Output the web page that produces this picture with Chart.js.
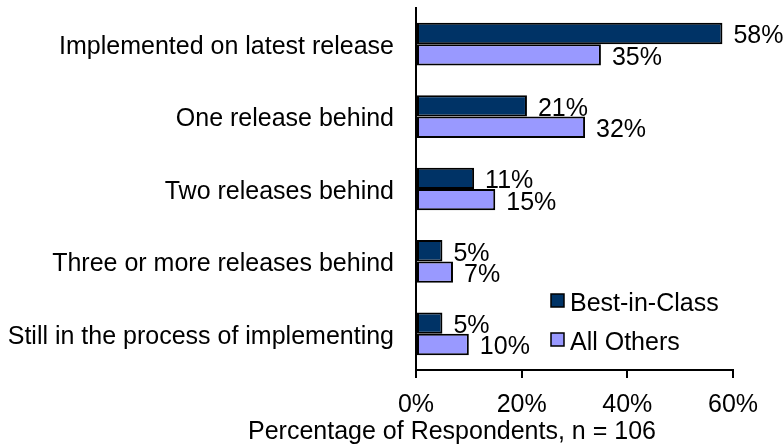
<!DOCTYPE html>
<html>
<head>
<meta charset="utf-8">
<script src="https://cdn.jsdelivr.net/npm/chart.js@4.4.1/dist/chart.umd.min.js"></script>
<style>
  html, body { margin: 0; padding: 0; background: #fff; }
  #wrap { width: 784px; height: 447px; }
</style>
</head>
<body>
<div id="wrap"><canvas id="releaseChart" width="784" height="447"></canvas></div>
<script>
const categories = [
  "Implemented on latest release",
  "One release behind",
  "Two releases behind",
  "Three or more releases behind",
  "Still in the process of implementing"
];
const bestInClass = [58, 21, 11, 5, 5];
const allOthers = [35, 32, 15, 7, 10];
const xTicks = [0, 20, 40, 60];
const axisTitle = "Percentage of Respondents, n = 106";

const FONT = "'Liberation Sans', Arial, sans-serif";
const SIZE = 25;

// value labels at the end of each bar
const valueLabels = {
  id: "valueLabels",
  afterDatasetsDraw(chart) {
    const ctx = chart.ctx;
    ctx.save();
    ctx.font = SIZE + "px " + FONT;
    ctx.fillStyle = "#000";
    ctx.textAlign = "left";
    ctx.textBaseline = "middle";
    chart.data.datasets.forEach((ds, i) => {
      chart.getDatasetMeta(i).data.forEach((bar, j) => {
        ctx.fillText(ds.data[j] + "%", bar.x + 11, bar.y + 3);
      });
    });
    ctx.restore();
  }
};

// legend drawn inside the plot, lower right
const boxLegend = {
  id: "boxLegend",
  afterDraw(chart) {
    const ctx = chart.ctx;
    const a = chart.chartArea;
    ctx.save();
    ctx.font = SIZE + "px " + FONT;
    ctx.textBaseline = "middle";
    ctx.textAlign = "left";
    chart.data.datasets.forEach((ds, i) => {
      const bx = a.left + 135;
      const cy = a.bottom - 69 + i * 39;
      ctx.fillStyle = ds.backgroundColor;
      ctx.fillRect(bx, cy - 7, 13, 13);
      ctx.strokeStyle = "#000";
      ctx.lineWidth = 1.5;
      ctx.strokeRect(bx, cy - 7, 13, 13);
      ctx.fillStyle = "#000";
      ctx.fillText(ds.label, bx + 19, cy + 3);
    });
    ctx.restore();
  }
};

// x axis title, sits left of the plot centre like the original
const bottomTitle = {
  id: "bottomTitle",
  afterDraw(chart) {
    const ctx = chart.ctx;
    ctx.save();
    ctx.font = SIZE + "px " + FONT;
    ctx.fillStyle = "#000";
    ctx.textAlign = "center";
    ctx.textBaseline = "middle";
    ctx.fillText(axisTitle, 452, chart.chartArea.bottom + 62);
    ctx.restore();
  }
};

new Chart(document.getElementById("releaseChart"), {
  type: "bar",
  data: {
    labels: categories,
    datasets: [
      {
        label: "Best-in-Class",
        data: bestInClass,
        backgroundColor: "#003366",
        borderColor: "#000",
        borderWidth: 2,
        borderSkipped: false,
        barPercentage: 1.0,
        categoryPercentage: 0.59
      },
      {
        label: "All Others",
        data: allOthers,
        backgroundColor: "#9999FF",
        borderColor: "#000",
        borderWidth: 2,
        borderSkipped: false,
        barPercentage: 1.0,
        categoryPercentage: 0.59
      }
    ]
  },
  options: {
    indexAxis: "y",
    responsive: false,
    animation: false,
    layout: { padding: { top: 8, right: 51, left: 0, bottom: 0 } },
    plugins: {
      legend: { display: false },
      tooltip: { enabled: false }
    },
    scales: {
      x: {
        min: 0,
        max: 60,
        afterBuildTicks: (scale) => { scale.ticks = xTicks.map(v => ({ value: v })); },
        afterFit: (scale) => { scale.height = 77; },
        ticks: {
          color: "#000",
          font: { family: FONT, size: SIZE },
          padding: 12,
          callback: (v) => v + "%"
        },
        grid: {
          display: true,
          drawOnChartArea: false,
          drawTicks: true,
          tickLength: 8,
          color: "#000",
          lineWidth: 2
        },
        border: { display: true, color: "#000", width: 2 }
      },
      y: {
        afterFit: (scale) => {
          scale.width = 416;
          scale.paddingTop = 0;
          scale.paddingBottom = 0;
        },
        ticks: {
          color: "#000",
          font: { family: FONT, size: SIZE },
          padding: 22,
          labelOffset: 3
        },
        grid: { display: false, drawTicks: false },
        border: { display: true, color: "#000", width: 2 }
      }
    }
  },
  plugins: [valueLabels, boxLegend, bottomTitle]
});
</script>
</body>
</html>
